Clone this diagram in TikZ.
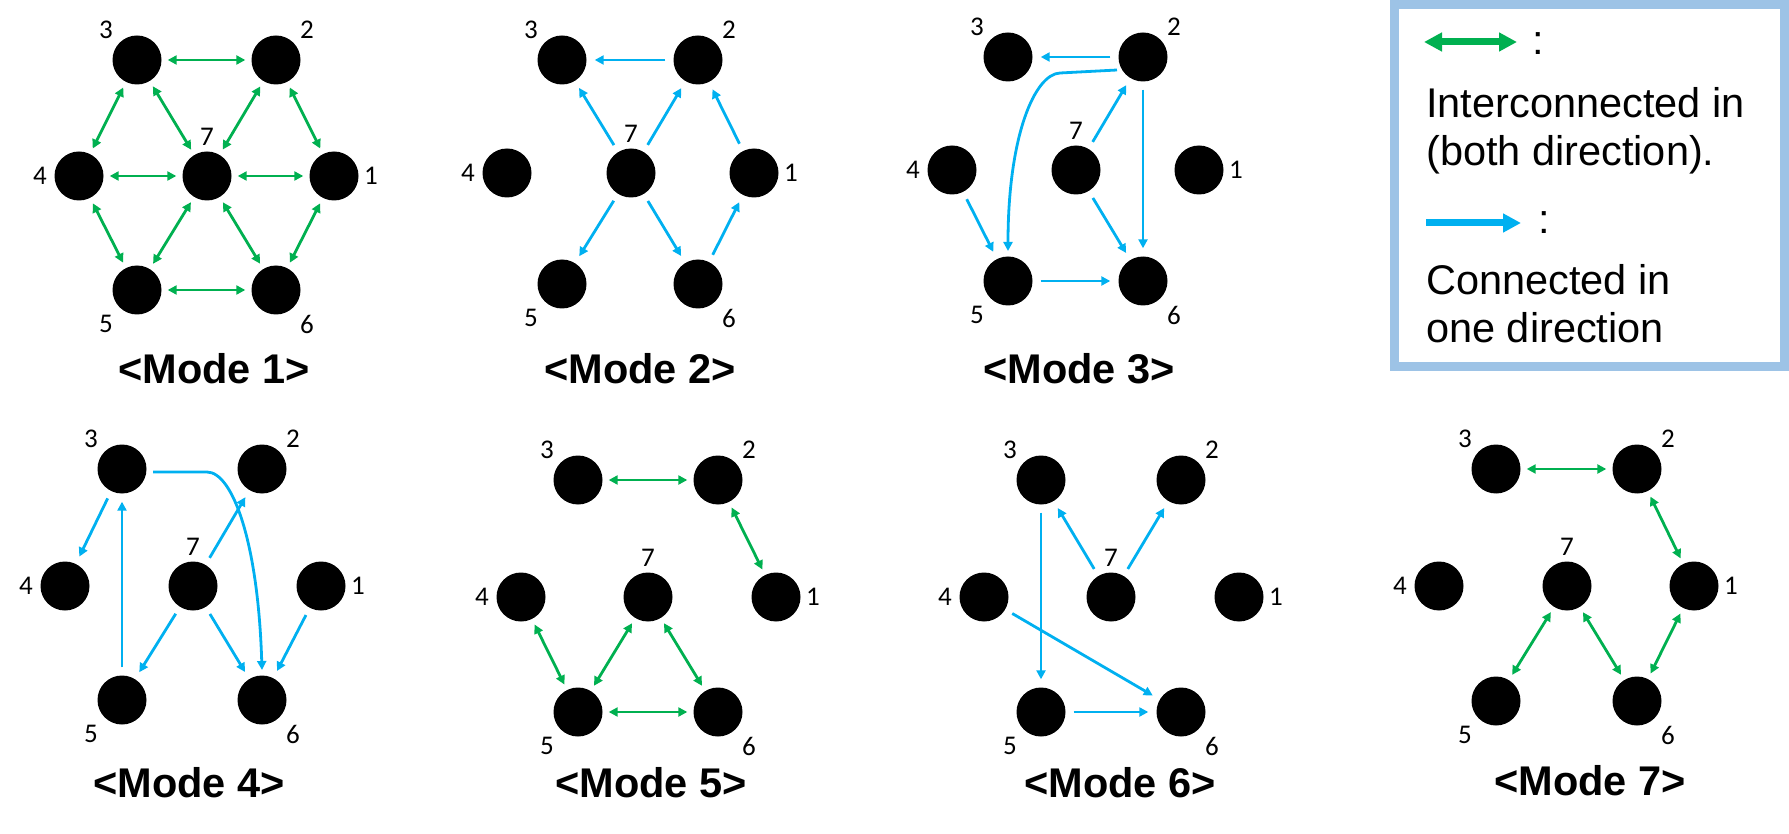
\documentclass[tikz,border=0pt]{standalone}
\usepackage{fontspec}
\setmainfont{Liberation Sans}
\newfontfamily\digitfont{Carlito}
\usetikzlibrary{arrows.meta,calc}
\definecolor{grn}{HTML}{00B050}
\definecolor{blu}{HTML}{00B0F0}
\definecolor{boxblue}{HTML}{9DC3E6}
\tikzset{
  dot/.style={circle,fill=black,inner sep=0pt,minimum size=49pt},
  num/.style={inner sep=0pt,font=\digitfont\fontsize{27}{27}\selectfont},
  modetitle/.style={anchor=base,inner sep=0pt,font=\fontsize{41.5}{41.5}\selectfont\bfseries},
  legtext/.style={anchor=base west,inner sep=0pt,font=\fontsize{41.5}{49}\selectfont},
  colon/.style={anchor=base,inner sep=0pt,font=\fontsize{41.5}{49}\selectfont},
  gl/.style={draw=grn,line width=2.8pt,{Triangle[length=9pt,width=9pt]}-{Triangle[length=9pt,width=9pt]},shorten <=6pt,shorten >=6pt},
  bl/.style={draw=blu,line width=2.8pt,-{Triangle[length=9pt,width=9pt]},shorten <=8pt,shorten >=8pt},
}
\newcommand{\mkmode}[8]{%
  \node[dot] (#1-1) at (#2) {};
  \node[dot] (#1-2) at (#3) {};
  \node[dot] (#1-3) at (#4) {};
  \node[dot] (#1-4) at (#5) {};
  \node[dot] (#1-5) at (#6) {};
  \node[dot] (#1-6) at (#7) {};
  \node[dot] (#1-7) at (#8) {};
  \node[num] (#1-l1) at ($(#1-1)+(37,0)$) {1};
  \node[num] (#1-l2) at ($(#1-2)+(31,-30)$) {2};
  \node[num] (#1-l3) at ($(#1-3)+(-31,-30)$) {3};
  \node[num] (#1-l4) at ($(#1-4)+(-39,0)$) {4};
  \node[num] (#1-l5) at ($(#1-5)+(-31,34)$) {5};
  \node[num] (#1-l6) at ($(#1-6)+(31,34)$) {6};
  \node[num] (#1-l7) at ($(#1-7)+(0,-39)$) {7};
}
\begin{document}
\begin{tikzpicture}[x=1pt,y=-1pt]
\useasboundingbox (0,0) rectangle (1789,834);

% Mode 1
\mkmode{m1}{334,176}{276,60}{137,60}{79,176}{137,290}{276,290}{207,176}
\foreach \a/\b in {3/2,3/4,3/7,2/7,2/1,4/7,7/1,4/5,7/5,7/6,1/6,5/6}
  \draw[gl] (m1-\a) -- (m1-\b);
\node[modetitle] (t1) at (214,383) {<Mode 1>};

% Mode 2
\mkmode{m2}{754,173}{698,60}{562,60}{507,173}{562,284}{698,284}{631,173}
\foreach \a/\b in {2/3,7/3,7/2,1/2,7/5,7/6,6/1}
  \draw[bl] (m2-\a) -- (m2-\b);
\node[modetitle] (t2) at (640,383) {<Mode 2>};

% Mode 3
\mkmode{m3}{1199,170}{1143,57}{1008,57}{952,170}{1008,281}{1143,281}{1076,170}
\foreach \a/\b in {2/3,7/2,2/6,4/5,7/6,5/6}
  \draw[bl] (m3-\a) -- (m3-\b);
\draw[bl,shorten <=0pt,shorten >=0pt] ($(m3-2)+(-26,13)$) -- ($(m3-2)+(-83,16)$)
  .. controls ($(m3-2)+(-108,17)$) and ($(m3-5)+(0,-146)$) .. ($(m3-5)+(0,-30)$);
\node[modetitle] (t3) at (1079,383) {<Mode 3>};

% Mode 4
\mkmode{m4}{321,586}{262,469}{122,469}{65,586}{122,700}{262,700}{193,586}
\foreach \a/\b in {3/4,5/3,7/2,7/5,7/6,1/6}
  \draw[bl] (m4-\a) -- (m4-\b);
\draw[bl,shorten <=0pt,shorten >=0pt] ($(m4-3)+(31,3)$) -- ($(m4-3)+(85,3)$)
  .. controls ($(m4-3)+(110,3)$) and ($(m4-6)+(-4,-160)$) .. ($(m4-6)+(0,-30)$);
\node[modetitle] (t4) at (189,797) {<Mode 4>};

% Mode 5
\mkmode{m5}{776,597}{718,480}{578,480}{521,597}{578,712}{718,712}{648,597}
\foreach \a/\b in {3/2,2/1,4/5,5/7,7/6,5/6}
  \draw[gl] (m5-\a) -- (m5-\b);
\node[modetitle] (t5) at (651,797) {<Mode 5>};

% Mode 6
\mkmode{m6}{1239,597}{1181,480}{1041,480}{984,597}{1041,712}{1181,712}{1111,597}
\foreach \a/\b in {3/5,7/3,7/2,4/6,5/6}
  \draw[bl] (m6-\a) -- (m6-\b);
\node[modetitle] (t6) at (1120,797) {<Mode 6>};

% Mode 7
\mkmode{m7}{1694,586}{1637,469}{1496,469}{1439,586}{1496,701}{1637,701}{1567,586}
\foreach \a/\b in {3/2,2/1,7/5,7/6,6/1}
  \draw[gl] (m7-\a) -- (m7-\b);
\node[modetitle] (t7) at (1590,795) {<Mode 7>};

% Legend
\node[draw=boxblue,line width=9pt,fill=white,inner sep=0pt,minimum width=390pt,minimum height=362pt] (legend) at (1589.5,185.5) {};
\coordinate (ga) at (1424,42);
\coordinate (gb) at (1517,42);
\draw[draw=grn,line width=7pt,{Triangle[length=18pt,width=18pt]}-{Triangle[length=18pt,width=18pt]}] (ga) -- (gb);
\node[colon] (c1) at (1538,55) {:};
\node[legtext] (lt1) at (1426,118) {Interconnected in};
\node[legtext] (lt2) at (1426,166) {(both direction).};
\coordinate (ba) at (1426,223);
\coordinate (bb) at (1521,223);
\draw[draw=blu,line width=7pt,-{Triangle[length=18pt,width=18pt]}] (ba) -- (bb);
\node[colon] (c2) at (1544,234) {:};
\node[legtext] (lt3) at (1426,295) {Connected in};
\node[legtext] (lt4) at (1426,342) {one direction};
\end{tikzpicture}
\end{document}
